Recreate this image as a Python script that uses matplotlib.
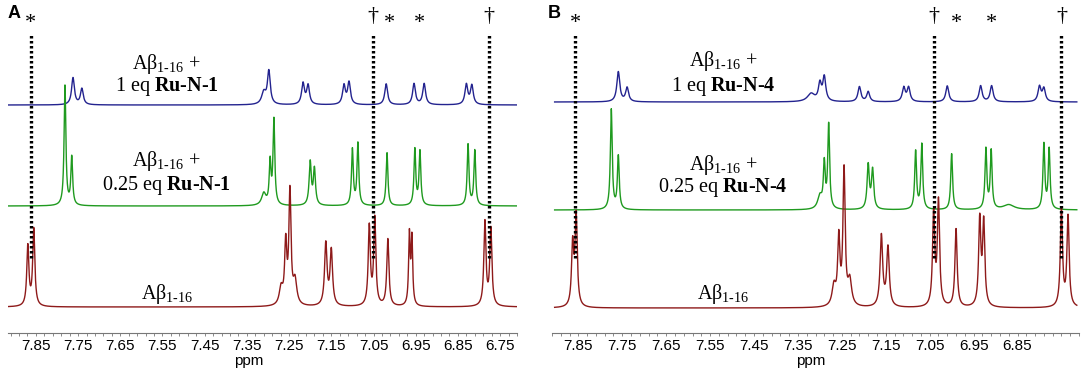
import numpy as np
import matplotlib
matplotlib.use("Agg")
import matplotlib.pyplot as plt

plt.rcParams['font.family'] = ['Liberation Sans', 'DejaVu Sans']
plt.rcParams['mathtext.fontset'] = 'custom'
plt.rcParams['mathtext.rm'] = 'Liberation Serif'
plt.rcParams['mathtext.bf'] = 'Liberation Serif:bold'
plt.rcParams['mathtext.it'] = 'Liberation Serif:italic'

# ---- peak tables (ppm, height, half width) ----
# panel A
A_blue_ppm = [7.762, 7.741, 7.310, 7.298, 7.217, 7.205, 7.120, 7.108, 7.020, 6.954, 6.930, 6.830, 6.817]
A_blue_int = [27, 16, 12, 33, 21, 19, 19, 22, 21, 21, 21, 20, 19]
A_blue_hw = [0.004, 0.004, 0.006, 0.004, 0.004, 0.004, 0.004, 0.004, 0.004, 0.004, 0.004, 0.004, 0.004]

A_green_ppm = [7.781, 7.765, 7.310, 7.295, 7.286, 7.200, 7.190, 7.100, 7.087, 7.018, 6.952, 6.940, 6.826, 6.810]
A_green_int = [120, 48, 12, 42, 85, 43, 36, 56, 62, 53, 56, 54, 61, 55]
A_green_hw = [0.0025, 0.0025, 0.006, 0.0025, 0.0025, 0.003, 0.003, 0.0025, 0.0025, 0.0025, 0.0025, 0.0025, 0.0025, 0.0025]

A_red_ppm = [7.869, 7.855, 7.269, 7.258, 7.248, 7.236, 7.163, 7.150, 7.060, 7.047, 7.016, 6.965, 6.959, 6.786, 6.772]
A_red_int = [60, 77, 17, 60, 112, 24, 62, 55, 79, 87, 67, 70, 66, 84, 77]
A_red_hw = [0.003, 0.003, 0.005, 0.003, 0.003, 0.005, 0.0035, 0.0035, 0.003, 0.003, 0.003, 0.0022, 0.0022, 0.003, 0.003]

# panel B
B_blue_ppm = [7.759, 7.739, 7.320, 7.300, 7.290, 7.210, 7.190, 7.109, 7.098, 7.010, 6.934, 6.909, 6.800, 6.790]
B_blue_int = [30, 14, 8, 17, 24, 15, 10, 14, 14, 16, 16, 16, 15, 13]
B_blue_hw = [0.004, 0.004, 0.010, 0.004, 0.004, 0.004, 0.004, 0.004, 0.004, 0.004, 0.004, 0.004, 0.004, 0.004]

B_green_ppm = [7.775, 7.759, 7.300, 7.290, 7.280, 7.190, 7.180, 7.082, 7.068, 7.000, 6.922, 6.910, 6.870, 6.790, 6.778]
B_green_int = [100, 53, 13, 44, 84, 44, 39, 58, 65, 56, 60, 58, 5, 65, 60]
B_green_hw = [0.0025, 0.0025, 0.006, 0.0025, 0.0025, 0.003, 0.003, 0.0025, 0.0025, 0.0025, 0.0025, 0.0025, 0.015, 0.0025, 0.0025]

B_red_ppm = [7.863, 7.855, 7.268, 7.257, 7.245, 7.232, 7.160, 7.145, 7.041, 7.030, 6.990, 6.936, 6.927, 6.750, 6.735]
B_red_int = [61, 90, 20, 66, 135, 25, 71, 59, 92, 104, 78, 86, 83, 97, 90]
B_red_hw = [0.003, 0.003, 0.005, 0.003, 0.003, 0.005, 0.0035, 0.0035, 0.003, 0.003, 0.003, 0.003, 0.003, 0.003, 0.003]

# reference lines and marks
A_marks_ppm = [7.862, 7.052, 7.012, 6.940, 6.776]
B_marks_ppm = [7.857, 7.041, 6.990, 6.910, 6.750]
marks_sym = ['*', '\u2020', '*', '*', '\u2020']
A_lines_ppm = [7.862, 7.052, 6.776]
B_lines_ppm = [7.857, 7.041, 6.750]

A_ticks = [7.85, 7.75, 7.65, 7.55, 7.45, 7.35, 7.25, 7.15, 7.05, 6.95, 6.85, 6.75]
B_ticks = [7.85, 7.75, 7.65, 7.55, 7.45, 7.35, 7.25, 7.15, 7.05, 6.95, 6.85]

ab = r'A$\mathrm{\beta}_{1\text{-}16}$'
A_labels = [ab + ' +', r'1 eq $\mathbf{Ru}$-$\mathbf{N}$-$\mathbf{1}$',
            ab + ' +', r'0.25 eq $\mathbf{Ru}$-$\mathbf{N}$-$\mathbf{1}$', ab]
B_labels = [ab + ' +', r'1 eq $\mathbf{Ru}$-$\mathbf{N}$-$\mathbf{4}$',
            ab + ' +', r'0.25 eq $\mathbf{Ru}$-$\mathbf{N}$-$\mathbf{4}$', ab]

colors = ['#23238f', '#1f9a1f', '#8e1a1a']


def spectrum(x, ppm, inten, hw):
    y = np.zeros_like(x)
    for p, h, w in zip(ppm, inten, hw):
        y += h * w**2 / ((x - p)**2 + w**2)
    return y


def draw_panel(ax, xlim, traces, offsets, lines, marks, ticks, labels, label_x, label_y, ppm_x):
    x = np.linspace(xlim[0], xlim[1], 8000)
    for (ppm, inten, hw), off, c in zip(traces, offsets, colors):
        ax.plot(x, off + spectrum(x, ppm, inten, hw), color=c, lw=1.0, zorder=2)
    ax.vlines(lines, 75, 300, colors='black', lw=2.4, linestyles=(0, (0.75, 0.75)), zorder=3)
    for p, s in zip(marks, marks_sym):
        yy = 310 if s == '*' else 316
        ax.text(p, yy, s, ha='center', va='center', fontsize=16, family='Liberation Serif')
    for t, yy in zip(labels, label_y):
        ax.text(label_x, yy, t, ha='center', va='baseline', fontsize=14.5, family='Liberation Serif')
    ax.text(ppm_x, -28, 'ppm', ha='center', va='center', fontsize=11)

    ax.set_xlim(xlim)
    ax.set_ylim(0, 333)
    for s in ['left', 'right', 'top']:
        ax.spines[s].set_visible(False)
    ax.spines['bottom'].set_color('#777777')
    ax.spines['bottom'].set_linewidth(0.8)
    ax.set_yticks([])
    ax.set_xticks(ticks)
    ax.set_xticklabels(['%.2f' % t for t in ticks], fontsize=11)
    ax.set_xticks(np.arange(7.91, 6.70, -0.02), minor=True)
    ax.tick_params(axis='x', which='both', length=2.5, width=0.6, color='#777777', pad=1.5)


fig = plt.figure(figsize=(10.84, 3.70), dpi=100)
axA = fig.add_axes([8 / 1084, 37 / 370, 509 / 1084, 333 / 370])
axB = fig.add_axes([552 / 1084, 37 / 370, 527 / 1084, 333 / 370])

draw_panel(axA, (7.916, 6.710),
           [(A_blue_ppm, A_blue_int, A_blue_hw), (A_green_ppm, A_green_int, A_green_hw),
            (A_red_ppm, A_red_int, A_red_hw)],
           [228, 127, 26], A_lines_ppm, A_marks_ppm, A_ticks, A_labels,
           7.54, [264, 242, 167, 143, 34], 7.345)
draw_panel(axB, (7.904, 6.715),
           [(B_blue_ppm, B_blue_int, B_blue_hw), (B_green_ppm, B_green_int, B_green_hw),
            (B_red_ppm, B_red_int, B_red_hw)],
           [231, 123, 25], B_lines_ppm, B_marks_ppm, B_ticks, B_labels,
           7.52, [267, 242, 163, 141, 34], 7.32)

fig.text(8 / 1084, 1 - 13 / 370, 'A', fontsize=13, fontweight='bold', va='center', ha='left')
fig.text(548 / 1084, 1 - 13 / 370, 'B', fontsize=13, fontweight='bold', va='center', ha='left')

fig.savefig('out.png', dpi=100)
